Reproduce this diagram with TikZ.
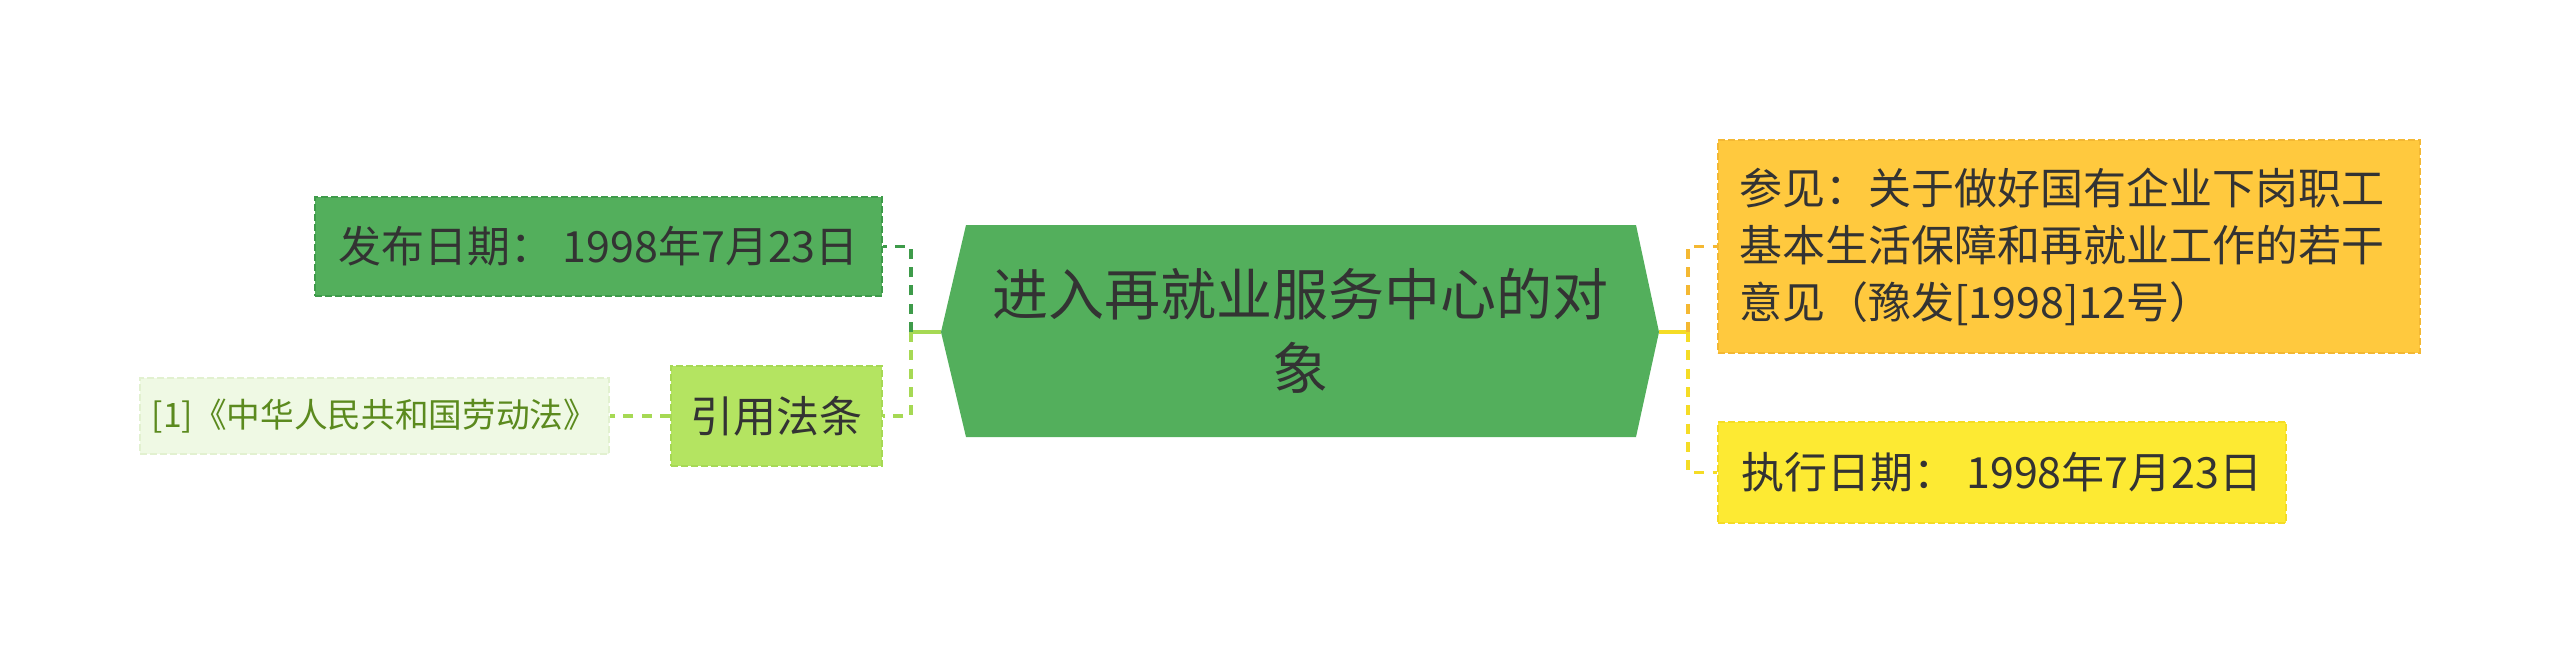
\documentclass[tikz,border=0pt]{standalone}
\usepackage{fontspec}
\setmainfont{Noto Sans CJK SC}
\usetikzlibrary{positioning,calc}

\definecolor{textgray}{HTML}{333333}
\definecolor{rootgreen}{HTML}{53AF5C}
\definecolor{pubfill}{HTML}{53AF5C}
\definecolor{publine}{HTML}{3E9B4A}
\definecolor{citefill}{HTML}{B4E461}
\definecolor{citeline}{HTML}{A6D954}
\definecolor{lawfill}{HTML}{EFF9E4}
\definecolor{lawline}{HTML}{E2F1D0}
\definecolor{lawtext}{HTML}{5B8A1E}
\definecolor{reffill}{HTML}{FFC93E}
\definecolor{refline}{HTML}{F4B832}
\definecolor{execfill}{HTML}{FDEA33}
\definecolor{execline}{HTML}{F5DC25}

\begin{document}
\begin{tikzpicture}[x=0.3pt,y=-0.3pt,
    box/.style={draw,dash pattern=on 2pt off 1pt,line width=0.6pt,inner sep=0pt,
      text=textgray,font=\fontsize{12.9pt}{17.1pt}\selectfont},
    link/.style={line width=1.1pt,dash pattern=on 3pt off 2.5pt},
    stub/.style={line width=1.1pt}]
    \useasboundingbox (0,0) rectangle (2560,663);

    \fill[rootgreen] (941,332) -- (966,225) -- (1636,225) -- (1659,332)
      -- (1636,437) -- (966,437) -- cycle;
    \coordinate (rootW) at (941,332);
    \coordinate (rootE) at (1659,332);
    \node[text=textgray,align=center,font=\fontsize{16.8pt}{22.2pt}\selectfont]
      (root) at (1300,331) {进入再就业服务中心的对\\象};

    \node[box,fill=pubfill,draw=publine,minimum width=170.1pt,minimum height=29.7pt]
      (pub) at (598.5,246.5) {发布日期： 1998年7月23日};
    \node[box,fill=citefill,draw=citeline,minimum width=63.3pt,minimum height=30pt]
      (cite) at (776.5,416) {引用法条};
    \node[box,fill=lawfill,draw=lawline,minimum width=140.7pt,minimum height=22.8pt,
      text=lawtext,font=\fontsize{10.1pt}{12pt}\selectfont]
      (law) at (374.5,416) {[1]《中华人民共和国劳动法》};

    \node[box,fill=reffill,draw=refline,minimum width=210.6pt,minimum height=63.9pt,
      text width=198pt,align=left,inner xsep=6.3pt] (ref) at (2069,246.5)
      {参见：关于做好国有企业下岗职工\\基本生活保障和再就业工作的若干\\意见（豫发[1998]12号）};
    \node[box,fill=execfill,draw=execline,minimum width=170.4pt,minimum height=30.3pt]
      (exec) at (2002,472.5) {执行日期： 1998年7月23日};

    \coordinate (lj) at (911,332);
    \coordinate (rj) at (1688,332);

    \draw[stub,citeline] (rootW) -- (lj);
    \draw[link,publine] (lj) |- (pub.east);
    \draw[link,citeline] (lj) |- (cite.east);
    \draw[link,citeline] (cite.west) -- (law.east);

    \draw[stub,execline] (rootE) -- (rj);
    \draw[link,refline] (rj) |- (ref.west);
    \draw[link,execline] (rj) |- (exec.west);
\end{tikzpicture}
\end{document}
